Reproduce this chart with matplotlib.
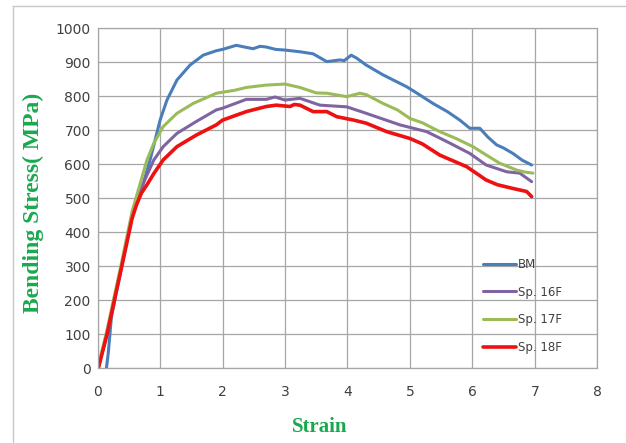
import matplotlib.pyplot as plt
from matplotlib.lines import Line2D

# Curves (strain, bending stress in MPa)
bm_strain = [0.14, 0.17, 0.22, 0.30, 0.55, 0.70, 0.84, 0.92, 1.00, 1.11, 1.27, 1.48, 1.69, 1.90, 2.00,
             2.22, 2.35, 2.49, 2.60, 2.70, 2.85, 3.00, 3.24, 3.45, 3.67, 3.88, 3.95, 4.06, 4.15,
             4.30, 4.57, 4.95, 5.15, 5.37, 5.60, 5.80, 5.96, 6.12, 6.25, 6.39, 6.50, 6.65, 6.80, 6.95]
bm_stress = [0, 45, 150, 225, 445, 524, 613, 671, 730, 789, 848, 892, 921, 934, 938,
             950, 945, 940, 947, 945, 938, 936, 931, 925, 902, 907, 905, 921, 912,
             892, 863, 828, 805, 779, 755, 730, 706, 706, 680, 657, 648, 632, 612, 598]

sp16_strain = [0.01, 0.15, 0.38, 0.58, 0.73, 0.90, 1.05, 1.27, 1.58, 1.90, 2.00, 2.38, 2.70,
               2.84, 3.00, 3.24, 3.56, 3.99, 4.30, 4.84, 5.27, 5.59, 5.96, 6.22, 6.55, 6.76, 6.95]
sp16_stress = [0, 102, 300, 470, 544, 613, 652, 691, 726, 760, 765, 791, 791,
               798, 789, 794, 774, 769, 750, 716, 696, 667, 632, 598, 578, 574, 549]

sp17_strain = [0.00, 0.14, 0.37, 0.55, 0.65, 0.79, 0.90, 1.05, 1.27, 1.53, 1.90, 2.00, 2.20,
               2.38, 2.70, 3.00, 3.24, 3.50, 3.67, 3.99, 4.20, 4.30, 4.57, 4.80, 5.00, 5.20,
               5.48, 5.75, 6.01, 6.20, 6.44, 6.71, 6.85, 6.97]
sp17_stress = [0, 105, 300, 460, 524, 613, 662, 711, 750, 779, 809, 812, 818,
               826, 833, 836, 826, 810, 809, 799, 809, 805, 779, 760, 735, 722,
               696, 675, 652, 630, 603, 583, 577, 574]

sp18_strain = [0.01, 0.15, 0.38, 0.55, 0.62, 0.70, 0.79, 0.90, 1.05, 1.27, 1.58, 1.90, 2.00,
               2.38, 2.70, 2.86, 3.08, 3.15, 3.24, 3.45, 3.67, 3.83, 4.10, 4.30, 4.63, 5.00,
               5.20, 5.48, 5.91, 6.22, 6.40, 6.65, 6.87, 6.95]
sp18_stress = [0, 100, 295, 440, 480, 515, 540, 573, 613, 652, 686, 716, 730,
               755, 770, 774, 770, 776, 774, 755, 755, 740, 730, 721, 696, 676,
               660, 627, 593, 554, 540, 529, 520, 505]

labels = ['BM', 'Sp. 16F', 'Sp. 17F', 'Sp. 18F']
colors = ['#4a7ebb', '#8064a2', '#9bbb59', '#ee1111']

fig = plt.figure(figsize=(6.26, 4.43), dpi=100)
ax = fig.add_axes([0.156, 0.1686, 0.798, 0.7675])

series = [(bm_strain, bm_stress), (sp16_strain, sp16_stress),
          (sp17_strain, sp17_stress), (sp18_strain, sp18_stress)]
for (x, y), lab, c in zip(series, labels, colors):
    lw = 2.6 if lab == 'Sp. 18F' else 2.2
    ax.plot(x, y, color=c, lw=lw, label=lab, solid_capstyle='round', solid_joinstyle='round')

ax.set_xlim(0, 8)
ax.set_ylim(0, 1000)
ax.set_xticks(range(0, 9))
ax.set_yticks(range(0, 1001, 100))
ax.grid(True, color='#a6a6a6', lw=0.9)
ax.set_axisbelow(True)
for s in ax.spines.values():
    s.set_color('#a6a6a6')
    s.set_linewidth(0.9)
ax.tick_params(length=0, labelsize=10, colors='#404040')
ax.tick_params(axis='x', pad=12)
ax.tick_params(axis='y', pad=5)

leg = ax.legend(loc='upper left', bbox_to_anchor=(0.771, 0.325), frameon=False,
                fontsize=8.5, handlelength=2.8, handletextpad=0.15, labelspacing=1.25,
                borderpad=0, borderaxespad=0)
for t in leg.get_texts():
    t.set_color('#404040')

green = '#19a84f'
fig.text(33 / 626, 1 - 203 / 443, 'Bending Stress( MPa)', rotation=90, ha='center', va='center',
         fontsize=17, fontweight='bold', family='Liberation Serif', color=green)
fig.text(320 / 626, 1 - 427 / 443, 'Strain', ha='center', va='center',
         fontsize=15, fontweight='bold', family='Liberation Serif', color=green)

# light outer frame (top and left edge)
fig.add_artist(Line2D([13 / 626, 1], [1 - 6 / 443, 1 - 6 / 443], color='#c8c8c8', lw=1,
                      transform=fig.transFigure))
fig.add_artist(Line2D([13 / 626, 13 / 626], [0, 1 - 6 / 443], color='#c8c8c8', lw=1,
                      transform=fig.transFigure))

fig.savefig('out.png', dpi=100)
